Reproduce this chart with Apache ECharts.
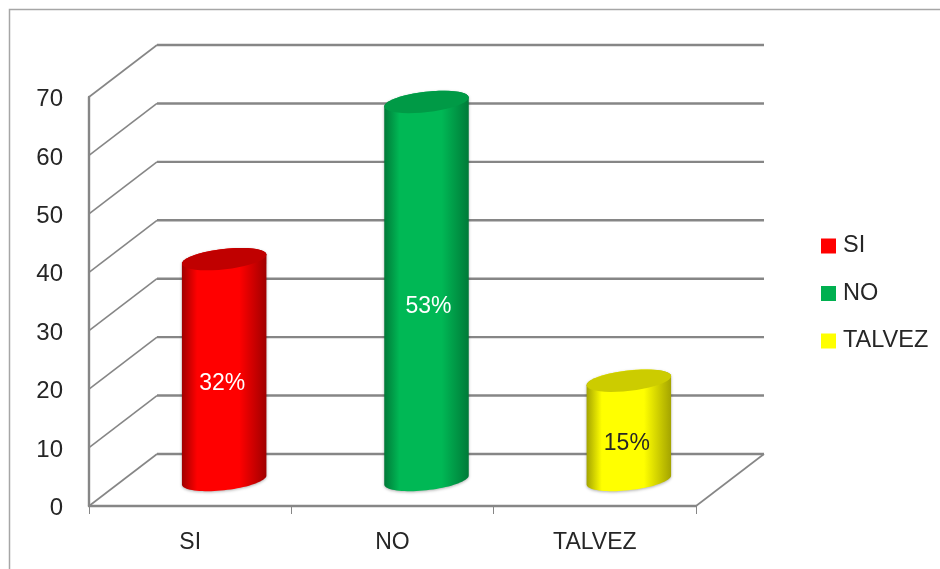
<!DOCTYPE html>
<html>
<head>
<meta charset="utf-8">
<style>html,body{margin:0;padding:0;background:#fff}#c{width:940px;height:569px;filter:blur(0.35px)}</style>
<script src="https://cdn.jsdelivr.net/npm/echarts@6/dist/echarts.min.js"></script>
</head>
<body>
<div id="c"></div>
<script>
var categories = ['SI', 'NO', 'TALVEZ'];
var values = [37.8, 64.7, 17];
var percentLabels = ['32%', '53%', '15%'];
var yTicks = [0, 10, 20, 30, 40, 50, 60, 70];
var bodyBright = ['#ff0000', '#00b855', '#ffff00'];
var bodyDark = ['#a00000', '#007a38', '#a4a400'];
var capColors = ['#c00000', '#009a46', '#cccc00'];
var labelColors = ['#ffffff', '#ffffff', '#262626'];
var legendColors = ['#ff0000', '#00b050', '#ffff00'];

var FONT = '"Liberation Sans", Arial, sans-serif';
var GRID_COLOR = '#868686';
var DEPTH_X = 68, DEPTH_Y = -52;
var LABEL_NUDGE = [[-2, 14], [2, 16], [-2, 13]];

var chart = echarts.init(document.getElementById('c'));

function arc(cx, cy, rx, ry, rot, from, to) {
  var pts = [], n = 40, cr = Math.cos(rot), sr = Math.sin(rot);
  for (var i = 0; i <= n; i++) {
    var t = from + (to - from) * i / n;
    pts.push([cx + rx * Math.cos(t) * cr - ry * Math.sin(t) * sr,
              cy + rx * Math.cos(t) * sr + ry * Math.sin(t) * cr]);
  }
  return pts;
}

function seg(a, b, c, d, w) {
  return { type: 'line', shape: { x1: a, y1: b, x2: c, y2: d }, style: { stroke: GRID_COLOR, lineWidth: w } };
}

function renderWall(params, api) {
  var cs = params.coordSys;
  var y = api.coord([0, api.value(0)])[1];
  var x0 = cs.x, x1 = cs.x + cs.width;
  var children = [
    seg(x0, y, x0 + DEPTH_X, y + DEPTH_Y, 1.6),
    seg(x0 + DEPTH_X, y + DEPTH_Y, x1 + DEPTH_X, y + DEPTH_Y, 2.4)
  ];
  if (api.value(0) === yTicks[0]) {
    children.push(seg(x1, y, x1 + DEPTH_X, y + DEPTH_Y, 1.6));
  }
  return { type: 'group', children: children };
}

function renderCylinder(idx) {
  return function (params, api) {
    var base = api.coord([api.value(0), 0]);
    var top = api.coord([api.value(0), api.value(1)]);
    var cx = base[0] + DEPTH_X / 2;
    var by = base[1] + DEPTH_Y / 2;
    var ty = top[1] + DEPTH_Y / 2;
    var rx = 42.5, ry = 10.2, rot = -6.5 * Math.PI / 180;
    var t0 = Math.atan2(-ry * Math.sin(rot), rx * Math.cos(rot));
    var body = arc(cx, by, rx, ry, rot, t0, t0 + Math.PI)
      .concat(arc(cx, ty, rx, ry, rot, t0 + Math.PI, t0 + 2 * Math.PI));
    return {
      type: 'group',
      children: [{
        type: 'polygon',
        shape: { points: body },
        style: {
          fill: {
            type: 'linear', x: 0, y: 0, x2: 1, y2: 0,
            colorStops: [
              { offset: 0, color: bodyDark[idx] },
              { offset: 0.18, color: bodyBright[idx] },
              { offset: 0.68, color: bodyBright[idx] },
              { offset: 1, color: bodyDark[idx] }
            ]
          },
          shadowBlur: 3, shadowColor: 'rgba(0,0,0,0.3)', shadowOffsetY: 1
        }
      }, {
        type: 'polygon',
        shape: { points: arc(cx, ty, rx, ry, rot, 0, 2 * Math.PI) },
        style: { fill: capColors[idx] }
      }, {
        type: 'text',
        style: {
          text: percentLabels[idx],
          x: cx + LABEL_NUDGE[idx][0], y: (by + ty) / 2 + LABEL_NUDGE[idx][1],
          fill: labelColors[idx], font: '23px ' + FONT,
          align: 'center', verticalAlign: 'middle'
        }
      }]
    };
  };
}

var series = [{
  name: 'wall',
  type: 'custom',
  silent: true,
  z: 1,
  renderItem: renderWall,
  encode: { y: 0 },
  data: yTicks.map(function (t) { return [t]; })
}];
categories.forEach(function (c, i) {
  series.push({
    name: c,
    type: 'custom',
    z: 3,
    itemStyle: { color: legendColors[i] },
    renderItem: renderCylinder(i),
    encode: { x: 0, y: 1 },
    data: [[i, values[i]]]
  });
});

chart.setOption({
  animation: false,
  backgroundColor: '#ffffff',
  graphic: [{
    type: 'polyline',
    silent: true,
    z: 0,
    shape: { points: [[9.5, 569], [9.5, 9.5], [940, 9.5]] },
    style: { stroke: '#a6a6a6', lineWidth: 1.5, fill: null }
  }],
  grid: { left: 89, right: 244, top: 97, bottom: 63 },
  legend: {
    data: categories,
    orient: 'vertical',
    left: 821, top: 234,
    padding: 0,
    icon: 'rect',
    itemWidth: 15, itemHeight: 15, itemGap: 23.5,
    selectedMode: false,
    textStyle: { fontFamily: FONT, fontSize: 23.5, color: '#262626', padding: [0, 0, 0, 2] }
  },
  xAxis: {
    type: 'category',
    data: categories,
    axisLine: { lineStyle: { color: GRID_COLOR, width: 2.4 } },
    axisTick: { show: true, length: 8, lineStyle: { color: GRID_COLOR, width: 1 } },
    axisLabel: { fontFamily: FONT, fontSize: 23, color: '#262626', margin: 25 },
    splitLine: { show: false }
  },
  yAxis: {
    type: 'value',
    min: 0, max: 70, interval: 10,
    axisLine: { show: true, lineStyle: { color: GRID_COLOR, width: 2.4 } },
    axisTick: { show: false },
    axisLabel: {
      color: '#262626', margin: 26,
      formatter: '{v|{value}}',
      rich: { v: { fontFamily: FONT, fontSize: 24, color: '#262626', padding: [5, 0, 0, 0] } }
    },
    splitLine: { show: false }
  },
  series: series
});
</script>
</body>
</html>
